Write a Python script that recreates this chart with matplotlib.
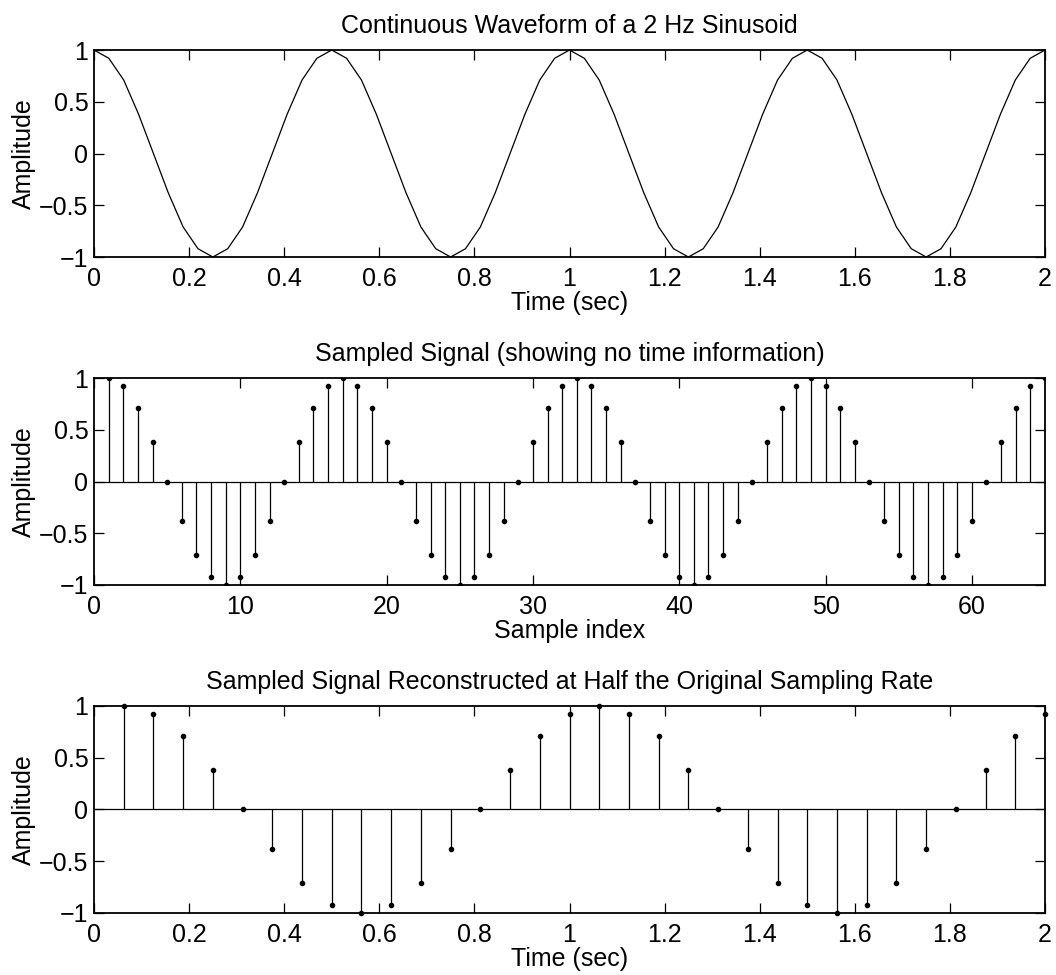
import numpy as np
import matplotlib
matplotlib.use("Agg")
import matplotlib.pyplot as plt
from matplotlib.ticker import FuncFormatter

plt.rcParams['font.family'] = ['Liberation Sans', 'DejaVu Sans']

samples = [
    1, 0.92, 0.71, 0.38, 0, -0.38, -0.71, -0.92, -1, -0.92, -0.71, -0.38, 0, 0.38, 0.71, 0.92,
    1, 0.92, 0.71, 0.38, 0, -0.38, -0.71, -0.92, -1, -0.92, -0.71, -0.38, 0, 0.38, 0.71, 0.92,
    1, 0.92, 0.71, 0.38, 0, -0.38, -0.71, -0.92, -1, -0.92, -0.71, -0.38, 0, 0.38, 0.71, 0.92,
    1, 0.92, 0.71, 0.38, 0, -0.38, -0.71, -0.92, -1, -0.92, -0.71, -0.38, 0, 0.38, 0.71, 0.92,
    1,
]
time_orig = np.linspace(0, 2, 65)          # seconds, 1/32 s steps
sample_index = np.arange(1, 66)            # 1..65
time_half = np.linspace(1 / 16, 2, 32)     # first 32 samples played at 16 Hz
samples_half = samples[:32]

titles = [
    "Continuous Waveform of a 2 Hz Sinusoid",
    "Sampled Signal (showing no time information)",
    "Sampled Signal Reconstructed at Half the Original Sampling Rate",
]
xlabels = ["Time (sec)", "Sample index", "Time (sec)"]
yticks = [-1, -0.5, 0, 0.5, 1]
time_ticks = [0, 0.2, 0.4, 0.6, 0.8, 1, 1.2, 1.4, 1.6, 1.8, 2]
index_ticks = [0, 10, 20, 30, 40, 50, 60]

FS = 18


def fmt(v, pos):
    return ("%g" % v).replace("-", "\u2212")


fig = plt.figure(figsize=(10.56, 9.75), dpi=100)
left, width, height = 0.089, 0.9006, 0.2123
bottoms = [0.7364, 0.4, 0.0636]
axes = [fig.add_axes([left, b, width, height]) for b in bottoms]

# continuous waveform
ax = axes[0]
ax.plot(time_orig, samples, color='k', lw=0.9)
ax.set_xlim(0, 2)
ax.set_xticks(time_ticks)

# samples vs index
ax = axes[1]
ax.axhline(0, color='k', lw=0.9)
ml, sl, bl = ax.stem(sample_index, samples, linefmt='k-', markerfmt='ko', basefmt=' ')
sl.set_linewidth(0.9)
ml.set_markersize(3)
ax.set_xlim(0, 65)
ax.set_xticks(index_ticks)

# reconstructed at half rate
ax = axes[2]
ax.axhline(0, color='k', lw=0.9)
ml, sl, bl = ax.stem(time_half, samples_half, linefmt='k-', markerfmt='ko', basefmt=' ')
sl.set_linewidth(0.9)
ml.set_markersize(3)
ml.set_clip_on(False)
ax.set_xlim(0, 2)
ax.set_xticks(time_ticks)

for ax, t, xl in zip(axes, titles, xlabels):
    ax.set_ylim(-1, 1)
    ax.set_yticks(yticks)
    ax.xaxis.set_major_formatter(FuncFormatter(fmt))
    ax.yaxis.set_major_formatter(FuncFormatter(fmt))
    ax.tick_params(direction='in', top=True, right=True, length=7, width=0.9,
                   labelsize=FS)
    ax.tick_params(axis='x', pad=7)
    ax.tick_params(axis='y', pad=4)
    for s in ax.spines.values():
        s.set_linewidth(1.3)
    ax.set_title(t, fontsize=FS, pad=12)
    ax.set_xlabel(xl, fontsize=FS, labelpad=0)
    ax.set_ylabel("Amplitude", fontsize=FS, labelpad=2)

fig.savefig("out.png", dpi=100)
